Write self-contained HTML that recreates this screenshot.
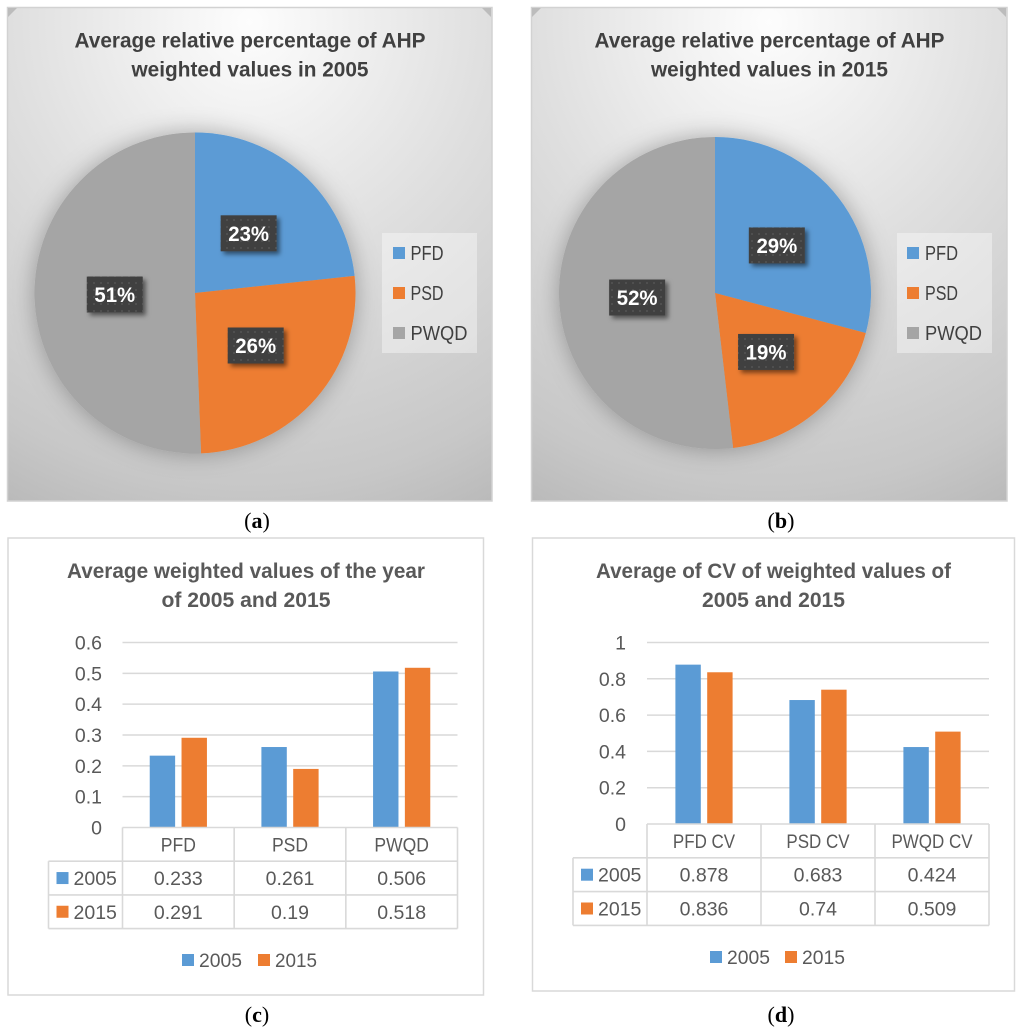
<!DOCTYPE html>
<html lang="en">
<head>
<meta charset="utf-8">
<title>AHP weighted values charts</title>
<style>
html,body{margin:0;padding:0;background:#fff;width:1024px;height:1033px;overflow:hidden}
svg{display:block}
text{font-family:"Liberation Sans",sans-serif}
.cap{font-family:"Liberation Serif",serif;font-size:22px;fill:#000}
.pt{font-size:21px;font-weight:bold;fill:#404040;text-anchor:middle}
.bt{font-size:21px;font-weight:bold;fill:#595959;text-anchor:middle}
.lg{font-size:20px;fill:#404040}
.lb{font-size:19.5px;fill:#595959}
</style>
</head>
<body>
<svg id="figure" xmlns="http://www.w3.org/2000/svg" width="1024" height="1033" viewBox="0 0 1024 1033">
<defs>
<radialGradient id="panelBg" cx="0.5" cy="0.03" r="1.1">
<stop offset="0" stop-color="#fdfdfd"/>
<stop offset="0.45" stop-color="#dfdfdf"/>
<stop offset="0.86" stop-color="#c7c7c7"/>
<stop offset="1" stop-color="#b9b9b9"/>
</radialGradient>
<pattern id="labelDots" width="7" height="7" patternUnits="userSpaceOnUse">
<rect width="7" height="7" fill="#404040"/>
<rect x="2" y="2" width="2" height="2" fill="#505050"/>
</pattern>
<filter id="pieShadow" x="-25%" y="-25%" width="150%" height="150%">
<feDropShadow dx="0" dy="0" stdDeviation="12" flood-color="#000" flood-opacity="0.3"/>
</filter>
<filter id="labelShadow" x="-30%" y="-30%" width="170%" height="170%">
<feDropShadow dx="3" dy="3" stdDeviation="2.5" flood-color="#000" flood-opacity="0.5"/>
</filter>
</defs>

<g id="panel-a">
<rect x="7.5" y="7.5" width="484.5" height="493.5" fill="url(#panelBg)" stroke="#d2d2d2" stroke-width="1.5"/>
<polygon points="8,8 17,8 8,17" fill="#bcbcbc"/>
<polygon points="491,8 482,8 491,17" fill="#bcbcbc"/>
<text class="pt" x="250" y="47.500" textLength="351" lengthAdjust="spacingAndGlyphs">Average relative percentage of AHP</text>
<text class="pt" x="250" y="76.500" textLength="237" lengthAdjust="spacingAndGlyphs">weighted values in 2005</text>
<g id="pie-a"></g>
<g>
<rect x="382" y="233" width="95" height="120" fill="#fff" fill-opacity="0.38"/>
<rect x="393" y="247" width="12" height="12" fill="#5b9bd5"/>
<text class="lg" x="410.500" y="260" textLength="33" lengthAdjust="spacingAndGlyphs">PFD</text>
<rect x="393" y="287" width="12" height="12" fill="#ed7d31"/>
<text class="lg" x="410.500" y="300" textLength="33" lengthAdjust="spacingAndGlyphs">PSD</text>
<rect x="393" y="327" width="12" height="12" fill="#a5a5a5"/>
<text class="lg" x="410.500" y="340" textLength="57" lengthAdjust="spacingAndGlyphs">PWQD</text>
</g>
</g>

<g id="panel-b">
<rect x="531.500" y="7.5" width="475.500" height="493.5" fill="url(#panelBg)" stroke="#d2d2d2" stroke-width="1.5"/>
<polygon points="532,8 541,8 532,17" fill="#bcbcbc"/>
<polygon points="1006,8 997,8 1006,17" fill="#bcbcbc"/>
<text class="pt" x="769.500" y="47.500" textLength="350" lengthAdjust="spacingAndGlyphs">Average relative percentage of AHP</text>
<text class="pt" x="769.500" y="76.500" textLength="237" lengthAdjust="spacingAndGlyphs">weighted values in 2015</text>
<g id="pie-b"></g>
<g>
<rect x="897" y="233" width="95" height="120" fill="#fff" fill-opacity="0.38"/>
<rect x="907" y="247" width="12" height="12" fill="#5b9bd5"/>
<text class="lg" x="925" y="260" textLength="33" lengthAdjust="spacingAndGlyphs">PFD</text>
<rect x="907" y="287" width="12" height="12" fill="#ed7d31"/>
<text class="lg" x="925" y="300" textLength="33" lengthAdjust="spacingAndGlyphs">PSD</text>
<rect x="907" y="327" width="12" height="12" fill="#a5a5a5"/>
<text class="lg" x="925" y="340" textLength="57" lengthAdjust="spacingAndGlyphs">PWQD</text>
</g>
</g>

<g id="panel-c">
<rect x="8" y="538" width="475.500" height="457" fill="#fff" stroke="#d9d9d9" stroke-width="1.5"/>
<text class="bt" x="246" y="578" textLength="358" lengthAdjust="spacingAndGlyphs">Average weighted values of the year</text>
<text class="bt" x="246" y="607" textLength="169" lengthAdjust="spacingAndGlyphs">of 2005 and 2015</text>
<g id="bars-c"></g>
<g>
<rect x="182" y="954" width="12" height="12" fill="#5b9bd5"/>
<text class="lb" x="199" y="967" textLength="43" lengthAdjust="spacingAndGlyphs">2005</text>
<rect x="258" y="954" width="12" height="12" fill="#ed7d31"/>
<text class="lb" x="275" y="967" textLength="42" lengthAdjust="spacingAndGlyphs">2015</text>
</g>
</g>

<g id="panel-d">
<rect x="532.500" y="538" width="482" height="453" fill="#fff" stroke="#d9d9d9" stroke-width="1.5"/>
<text class="bt" x="773.500" y="578" textLength="355" lengthAdjust="spacingAndGlyphs">Average of CV of weighted values of</text>
<text class="bt" x="773.500" y="607" textLength="143" lengthAdjust="spacingAndGlyphs">2005 and 2015</text>
<g id="bars-d"></g>
<g>
<rect x="710" y="951" width="12" height="12" fill="#5b9bd5"/>
<text class="lb" x="727" y="964" textLength="43" lengthAdjust="spacingAndGlyphs">2005</text>
<rect x="785" y="951" width="12" height="12" fill="#ed7d31"/>
<text class="lb" x="802" y="964" textLength="43" lengthAdjust="spacingAndGlyphs">2015</text>
</g>
</g>

<text class="cap" x="257" y="528" text-anchor="middle">(<tspan font-weight="bold">a</tspan>)</text>
<text class="cap" x="781" y="528" text-anchor="middle">(<tspan font-weight="bold">b</tspan>)</text>
<text class="cap" x="257" y="1022" text-anchor="middle">(<tspan font-weight="bold">c</tspan>)</text>
<text class="cap" x="781" y="1022" text-anchor="middle">(<tspan font-weight="bold">d</tspan>)</text>
</svg>

<script>
const pieCategories = ['PFD', 'PSD', 'PWQD'];
const pie2005Values = [0.233, 0.261, 0.506];
const pie2015Values = [0.291, 0.19, 0.518];

const seriesNames = ['2005', '2015'];
const weightedCategories = ['PFD', 'PSD', 'PWQD'];
const weighted2005 = [0.233, 0.261, 0.506];
const weighted2015 = [0.291, 0.19, 0.518];
const weightedTicks = [0, 0.1, 0.2, 0.3, 0.4, 0.5, 0.6];
const weightedTickLabels = ['0', '0.1', '0.2', '0.3', '0.4', '0.5', '0.6'];

const cvCategories = ['PFD CV', 'PSD CV', 'PWQD CV'];
const cv2005 = [0.878, 0.683, 0.424];
const cv2015 = [0.836, 0.74, 0.509];
const cvTicks = [0, 0.2, 0.4, 0.6, 0.8, 1];
const cvTickLabels = ['0', '0.2', '0.4', '0.6', '0.8', '1'];

const sliceColors = ['#5b9bd5', '#ed7d31', '#a5a5a5'];
const seriesColors = ['#5b9bd5', '#ed7d31'];
const SVG_NS = 'http://www.w3.org/2000/svg';

function make(parent, tag, attrs, content) {
  const node = document.createElementNS(SVG_NS, tag);
  for (const key in attrs) node.setAttribute(key, attrs[key]);
  if (content !== undefined) node.textContent = content;
  parent.appendChild(node);
  return node;
}

function squeeze(node, factor) {
  const natural = node.getComputedTextLength();
  node.setAttribute('textLength', natural * factor);
  node.setAttribute('lengthAdjust', 'spacingAndGlyphs');
}

function drawPie(host, values, cx, cy, radius) {
  const total = values.reduce((a, b) => a + b, 0);
  const pointAt = (frac, r) => [
    cx + r * Math.sin(frac * 2 * Math.PI),
    cy - r * Math.cos(frac * 2 * Math.PI)
  ];
  const slices = make(host, 'g', { filter: 'url(#pieShadow)' });
  
  
  let start = 0;
  values.forEach((value, i) => {
    const frac = value / total;
    const a = pointAt(start, radius);
    const b = pointAt(start + frac, radius);
    const large = frac > 0.5 ? 1 : 0;
    const d = `M${cx} ${cy}L${a[0]} ${a[1]}A${radius} ${radius} 0 ${large} 1 ${b[0]} ${b[1]}Z`;
    const slice = make(slices, 'path', { d: d, fill: sliceColors[i] });
    
    
    start += frac;
  });
  start = 0;
  values.forEach((value, i) => {
    const frac = value / total;
    const c = pointAt(start + frac / 2, radius * 0.5);
    const box = make(host, 'rect', {
      x: c[0] - 28, y: c[1] - 18, width: 56, height: 36,
      fill: 'url(#labelDots)', filter: 'url(#labelShadow)'
    });
    
    
    const label = make(host, 'text', {
      x: c[0], y: c[1] + 7.5, 'text-anchor': 'middle',
      'font-size': '21', 'font-weight': 'bold', fill: '#fff'
    }, Math.round(frac * 100) + '%');
    
    
    squeeze(label, 0.97);
    start += frac;
  });
}

function drawBars(host, cfg, categories, seriesA, seriesB, ticks, tickLabels) {
  const series = [seriesA, seriesB];
  const maxTick = Math.max.apply(null, ticks);
  const yScale = v => cfg.zeroY - (v / maxTick) * (cfg.zeroY - cfg.topY);
  const band = (cfg.right - cfg.left) / categories.length;
  const xBand = i => cfg.left + band * i;
  const barW = 25.4;
  const gap = 6.4;
  const xBar = (c, s) => xBand(c) + band / 2 - barW - gap / 2 + s * (barW + gap);

  ticks.forEach((tick, i) => {
    const y = yScale(tick);
    if (tick !== 0) {
      const grid = make(host, 'line', {
        x1: cfg.left, x2: cfg.right, y1: y, y2: y,
        stroke: '#d9d9d9', 'stroke-width': 1.5
      });
      
      
    }
    const label = make(host, 'text', {
      x: cfg.tickRight, y: y + 7, 'text-anchor': 'end',
      'font-size': '19.5', fill: '#595959'
    }, tickLabels[i]);
    
    
  });

  series.forEach((vals, s) => {
    vals.forEach((v, c) => {
      const bar = make(host, 'rect', {
        x: xBar(c, s), y: yScale(v), width: barW, height: cfg.zeroY - yScale(v),
        fill: seriesColors[s]
      });
      
      
    });
  });

  const rowH = cfg.rowH;
  const rowY = r => cfg.zeroY + rowH * r;
  const lineStyle = { stroke: '#d9d9d9', 'stroke-width': 1.6, fill: 'none' };
  const frame = make(host, 'g', lineStyle);
  
  
  for (let r = 0; r <= 3; r++) {
    make(frame, 'line', { x1: r === 0 ? cfg.left : cfg.tableLeft, x2: cfg.right, y1: rowY(r), y2: rowY(r) });
  }
  for (let c = 0; c <= categories.length; c++) {
    make(frame, 'line', { x1: xBand(c), x2: xBand(c), y1: rowY(0), y2: rowY(3) });
  }
  make(frame, 'line', { x1: cfg.tableLeft, x2: cfg.tableLeft, y1: rowY(1), y2: rowY(3) });

  categories.forEach((cat, c) => {
    const head = make(host, 'text', {
      x: xBand(c) + band / 2, y: rowY(0) + rowH / 2 + 7, 'text-anchor': 'middle',
      'font-size': '19.5', fill: '#595959'
    }, cat);
    
    
    squeeze(head, cat.length > 4 ? 0.87 : 0.9);
  });

  series.forEach((vals, s) => {
    const mid = rowY(s + 1) + rowH / 2;
    const swatch = make(host, 'rect', {
      x: cfg.tableLeft + 8, y: mid - 6, width: 12, height: 12, fill: seriesColors[s]
    });
    
    
    const rowLabel = make(host, 'text', {
      x: cfg.tableLeft + 25, y: mid + 7, 'font-size': '19.5', fill: '#595959'
    }, seriesNames[s]);
    
    
    vals.forEach((v, c) => {
      const cell = make(host, 'text', {
        x: xBand(c) + band / 2, y: mid + 7, 'text-anchor': 'middle',
        'font-size': '19.5', fill: '#595959'
      }, String(v));
      
      
    });
  });
}

drawPie(document.getElementById('pie-a'), pie2005Values, 195, 293, 160.5);
drawPie(document.getElementById('pie-b'), pie2015Values, 715, 293, 156);

drawBars(document.getElementById('bars-c'),
  { left: 122.5, right: 457.5, topY: 642.5, zeroY: 827.5, tickRight: 102, tableLeft: 48.5, rowH: 33.7 },
  weightedCategories, weighted2005, weighted2015, weightedTicks, weightedTickLabels);

drawBars(document.getElementById('bars-d'),
  { left: 647, right: 989, topY: 642.5, zeroY: 824, tickRight: 626, tableLeft: 573, rowH: 33.8 },
  cvCategories, cv2005, cv2015, cvTicks, cvTickLabels);
</script>
</body>
</html>
